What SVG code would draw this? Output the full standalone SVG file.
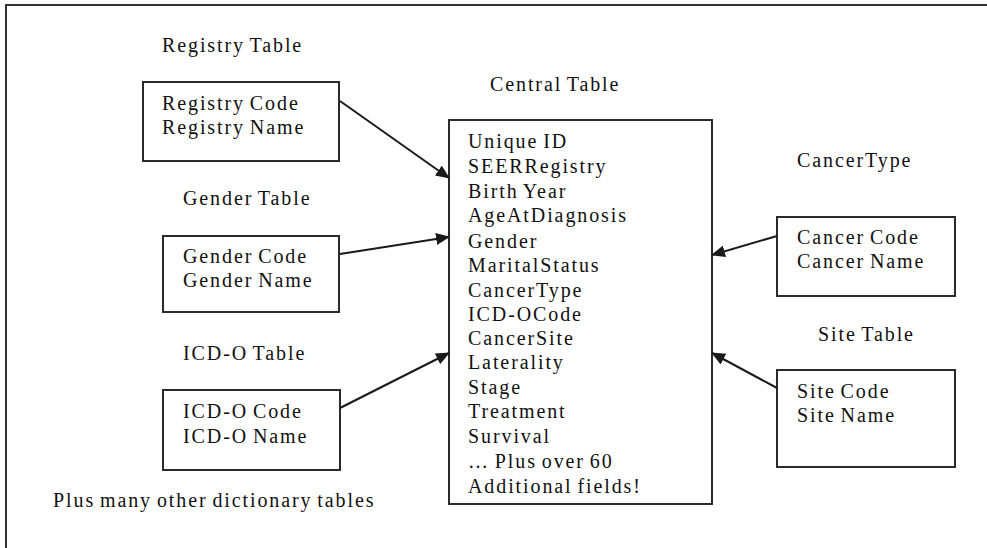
<svg xmlns="http://www.w3.org/2000/svg" width="987" height="548" viewBox="0 0 987 548">
  <style>
    text { font-family: "Liberation Serif", "Times New Roman", serif; font-size: 20px; letter-spacing: 1.9px; word-spacing: -2px; fill: #111111; }
    .box { fill: #ffffff; stroke: #2a2a2a; stroke-width: 2; }
    .frame { fill: none; stroke: #333333; stroke-width: 2; }
    .link { stroke: #1a1a1a; stroke-width: 2; fill: none; marker-end: url(#head); }
  </style>
  <defs>
    <marker id="head" markerUnits="userSpaceOnUse" markerWidth="14" markerHeight="12" refX="13" refY="6" orient="auto">
      <path d="M0,0 L14,6 L0,12 Z" fill="#1a1a1a"/>
    </marker>
  </defs>

  <rect x="0" y="0" width="987" height="548" fill="#ffffff"/>
  <!-- outer frame: top and left edges only -->
  <path class="frame" d="M6,548 V5 H987"/>

  <g id="registry">
    <text x="162" y="52">Registry Table</text>
    <rect class="box" x="143" y="82" width="196" height="79"/>
    <text x="162" y="110">Registry Code</text>
    <text x="162" y="134">Registry Name</text>
  </g>

  <g id="gender">
    <text x="183" y="205">Gender Table</text>
    <rect class="box" x="163" y="236" width="176" height="76"/>
    <text x="183" y="263">Gender Code</text>
    <text x="183" y="287">Gender Name</text>
  </g>

  <g id="icdo">
    <text x="183" y="360">ICD-O Table</text>
    <rect class="box" x="163" y="390" width="177" height="80"/>
    <text x="183" y="418">ICD-O Code</text>
    <text x="183" y="443">ICD-O Name</text>
  </g>

  <g id="other-tables">
    <text x="53" y="507">Plus many other dictionary tables</text>
  </g>

  <g id="central">
    <text x="490" y="91">Central Table</text>
    <rect class="box" x="449" y="120" width="263" height="384"/>
    <text x="468" y="148">Unique ID</text>
    <text x="468" y="173">SEERRegistry</text>
    <text x="468" y="198">Birth Year</text>
    <text x="468" y="222">AgeAtDiagnosis</text>
    <text x="468" y="248">Gender</text>
    <text x="468" y="272">MaritalStatus</text>
    <text x="468" y="297">CancerType</text>
    <text x="468" y="321">ICD-OCode</text>
    <text x="468" y="345">CancerSite</text>
    <text x="468" y="369">Laterality</text>
    <text x="468" y="394">Stage</text>
    <text x="468" y="418">Treatment</text>
    <text x="468" y="443">Survival</text>
    <text x="468" y="468">… Plus over 60</text>
    <text x="468" y="493">Additional fields!</text>
  </g>

  <g id="cancer-type">
    <text x="797" y="167">CancerType</text>
    <rect class="box" x="777" y="217" width="178" height="79"/>
    <text x="797" y="244">Cancer Code</text>
    <text x="797" y="268">Cancer Name</text>
  </g>

  <g id="site">
    <text x="818" y="341">Site Table</text>
    <rect class="box" x="777" y="370" width="178" height="97"/>
    <text x="797" y="398">Site Code</text>
    <text x="797" y="422">Site Name</text>
  </g>

  <g id="connectors">
    <line class="link" x1="340" y1="101" x2="449" y2="178"/>
    <line class="link" x1="340" y1="254" x2="449" y2="237"/>
    <line class="link" x1="340" y1="408" x2="449" y2="353"/>
    <line class="link" x1="777" y1="236" x2="712" y2="255"/>
    <line class="link" x1="777" y1="388" x2="712" y2="353"/>
  </g>
</svg>
